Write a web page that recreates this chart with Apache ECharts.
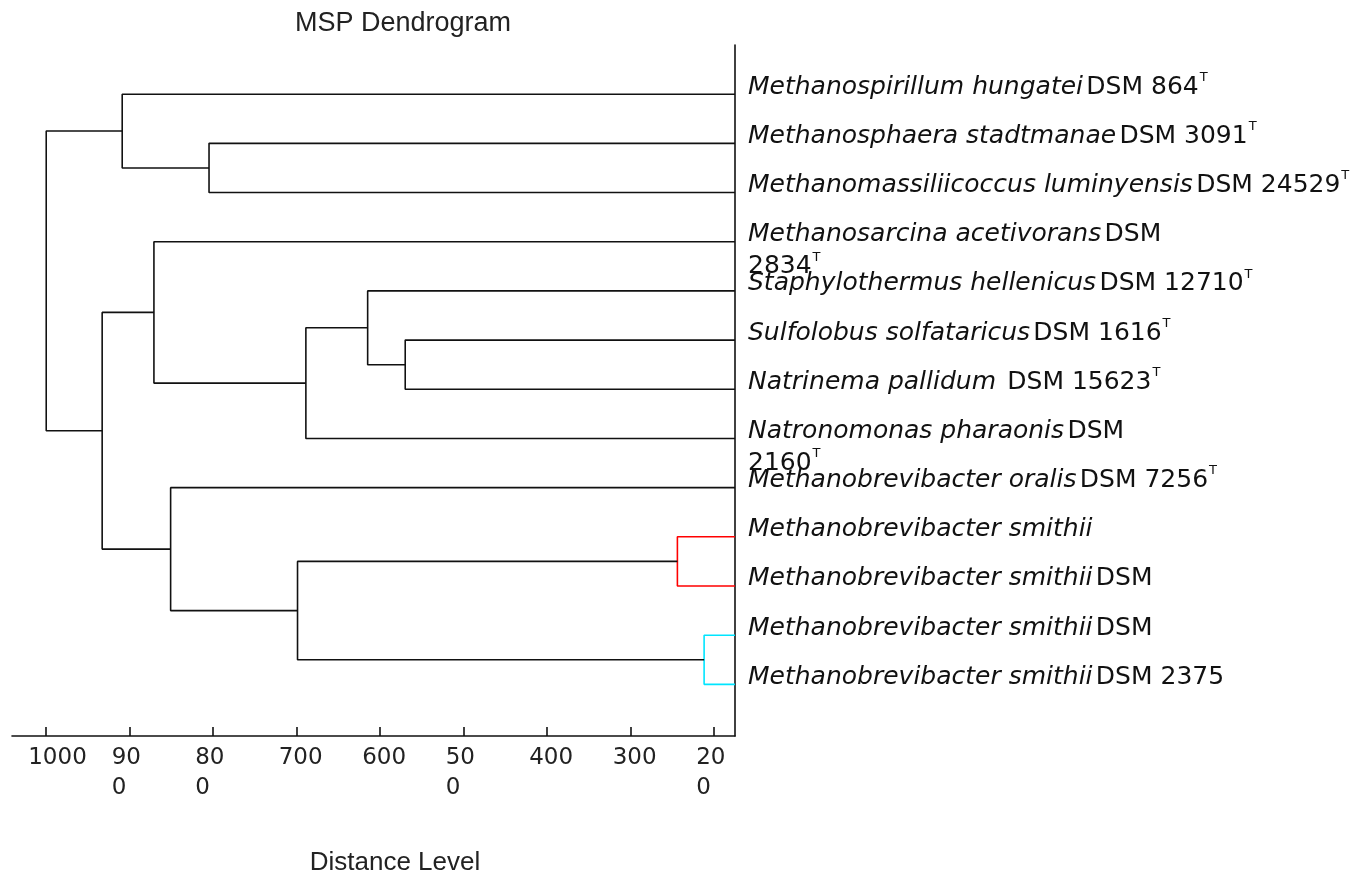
<!DOCTYPE html>
<html>
<head>
<meta charset="utf-8">
<title>MSP Dendrogram</title>
<script src="https://cdn.jsdelivr.net/npm/echarts@6/dist/echarts.min.js"></script>
<style>
  html, body { margin: 0; padding: 0; background: #fff; }
  #chart { width: 1371px; height: 873px; }
</style>
</head>
<body>
<div id="chart"></div>
<script>
// leaves, top to bottom
const leafNames = [
  "Methanospirillum hungatei",
  "Methanosphaera stadtmanae",
  "Methanomassiliicoccus luminyensis",
  "Methanosarcina acetivorans",
  "Staphylothermus hellenicus",
  "Sulfolobus solfataricus",
  "Natrinema pallidum",
  "Natronomonas pharaonis",
  "Methanobrevibacter oralis",
  "Methanobrevibacter smithii",
  "Methanobrevibacter smithii",
  "Methanobrevibacter smithii",
  "Methanobrevibacter smithii"
];
const leafStrains = [
  "DSM 864", "DSM 3091", "DSM 24529", "DSM\n2834", "DSM 12710", "DSM 1616",
  " DSM 15623", "DSM\n2160", "DSM 7256", "", "DSM", "DSM", "DSM 2375"
];
const leafTypeStrain = [true, true, true, true, true, true, true, true, true, false, false, false, false];
const leafDistance = 175;

// merges: [child A, child B, distance level, colour]; ids 0-12 are leaves, 13+ are merges in order
const merges = [
  [5, 6, 570, "#111"],      // 13
  [4, 13, 615, "#111"],     // 14
  [14, 7, 689, "#111"],     // 15
  [3, 15, 871, "#111"],     // 16
  [9, 10, 244, "#ff0000"],  // 17
  [11, 12, 212, "#00e5ff"], // 18
  [17, 18, 699, "#111"],    // 19
  [8, 19, 851, "#111"],     // 20
  [16, 20, 933, "#111"],    // 21
  [1, 2, 805, "#111"],      // 22
  [0, 22, 909, "#111"],     // 23
  [23, 21, 1000, "#111"]    // 24
];

const xTickValues = [1000, 900, 800, 700, 600, 500, 400, 300, 200];
const xTickLabels = ["1000", "90\n0", "80\n0", "700", "600", "50\n0", "400", "300", "20\n0"];

// node positions: leaf index for y, distance for x
const nodeY = leafNames.map((_, i) => i);
const nodeH = leafNames.map(() => leafDistance);
merges.forEach(([a, b, h]) => {
  nodeY.push((nodeY[a] + nodeY[b]) / 2);
  nodeH.push(h);
});

const series = merges.map(([a, b, h, color]) => ({
  type: "line",
  xAxisIndex: 0,
  yAxisIndex: 0,
  symbol: "none",
  silent: true,
  lineStyle: { color: color, width: 1.6 },
  data: [
    [nodeH[a], nodeY[a]],
    [h, nodeY[a]],
    [h, nodeY[b]],
    [nodeH[b], nodeY[b]]
  ]
}));

const labelFont = "'DejaVu Sans'";
const leafIdx = leafNames.map((_, i) => i);

const chart = echarts.init(document.getElementById("chart"), null, { renderer: "canvas" });
chart.setOption({
  animation: false,
  backgroundColor: "#fff",
  title: [
    {
      text: "MSP Dendrogram",
      left: 398,
      top: 5,
      textAlign: "center",
      textStyle: { fontFamily: "'Liberation Sans'", fontSize: 27, fontWeight: "normal", color: "#222" }
    },
    {
      text: "Distance Level",
      left: 390,
      top: 845,
      textAlign: "center",
      textStyle: { fontFamily: "'Liberation Sans'", fontSize: 26, fontWeight: "normal", color: "#222" }
    }
  ],
  grid: { left: 12, right: 636, top: 45, bottom: 137, containLabel: false },
  xAxis: {
    type: "value",
    position: "bottom",
    inverse: true,
    min: 175,
    max: 1041,
    splitLine: { show: false },
    axisLine: { show: true, onZero: false, lineStyle: { color: "#111", width: 1.6 } },
    axisTick: { show: true, inside: true, length: 9, customValues: xTickValues, lineStyle: { color: "#111", width: 1.6 } },
    axisLabel: {
      customValues: xTickValues,
      margin: 7,
      formatter: (v) => "{a|" + xTickLabels[xTickValues.indexOf(v)] + "}",
      rich: {
        a: { width: 36, align: "left", fontFamily: "'DejaVu Sans'", fontSize: 23, lineHeight: 30, color: "#222" }
      }
    }
  },
  yAxis: [
    {
      type: "value",
      position: "right",
      inverse: true,
      min: -1,
      max: 13.05,
      splitLine: { show: false },
      axisLine: { show: true, onZero: false, lineStyle: { color: "#111", width: 1.6 } },
      axisTick: { show: false },
      axisLabel: { show: false }
    },
    {
      // same scale shifted 23px up, carries the leaf labels
      type: "value",
      position: "right",
      inverse: true,
      min: -0.532,
      max: 13.518,
      splitLine: { show: false },
      axisLine: { show: false },
      axisTick: { show: false },
      axisLabel: {
        customValues: leafIdx,
        margin: 13,
        verticalAlign: "top",
        align: "left",
        formatter: (v) => {
          let s = "{i|" + leafNames[v] + "}";
          if (leafStrains[v]) {
            const parts = leafStrains[v].split("\n");
            s += " {n|" + parts[0] + "}";
            if (parts.length > 1) s += "\n{n|" + parts[1] + "}";
          }
          if (leafTypeStrain[v]) s += "{s|T}";
          return s;
        },
        rich: {
          i: { fontFamily: labelFont, fontStyle: "italic", fontSize: 25, lineHeight: 32, color: "#111" },
          n: { fontFamily: labelFont, fontSize: 25, lineHeight: 32, color: "#111" },
          s: { fontFamily: labelFont, fontSize: 13, lineHeight: 32, verticalAlign: "top", padding: [0, 0, 14, 1], color: "#111" }
        }
      }
    }
  ],
  series: series
});
</script>
</body>
</html>
